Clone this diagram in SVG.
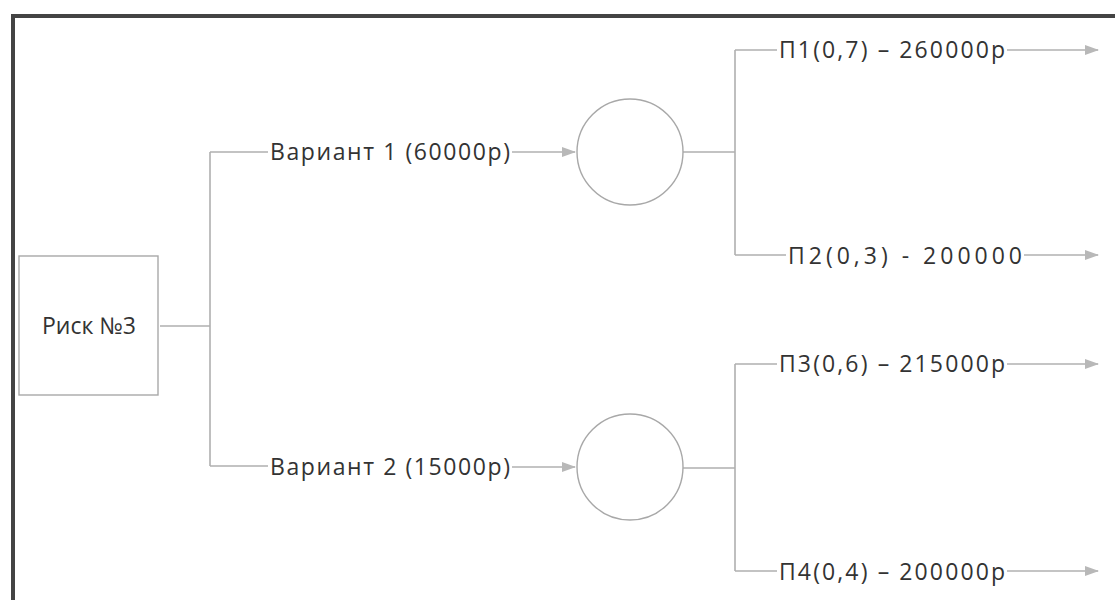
<svg xmlns="http://www.w3.org/2000/svg" width="1115" height="600" viewBox="0 0 1115 600">
<style>
.ln{stroke:#b0b0b0;stroke-width:1.6;fill:none}
.ar{stroke:#b0b0b0;stroke-width:1.6;fill:none;marker-end:url(#ah)}
.nd{stroke:#a8a8a8;stroke-width:1.4;fill:#fff}
.t{font-family:"Open Sans","Noto Sans","Liberation Sans",sans-serif;font-size:23px;fill:#333}
</style>
<defs>
<marker id="ah" markerWidth="14" markerHeight="10" refX="13" refY="5" orient="auto" markerUnits="userSpaceOnUse">
<path d="M0,0 L14,5 L0,10 Z" fill="#b8b8b8"/>
</marker>
</defs>
<rect width="1115" height="600" fill="#fff"/>
<rect x="13" y="16" width="1120" height="600" fill="none" stroke="#444" stroke-width="4"/>
<g id="connectors">
<path class="ln" d="M160,326 H210 M210,152 V466 M210,152 H268 M210,466 H268"/>
<path class="ar" d="M512,152 H575"/>
<path class="ar" d="M512,467 H575"/>
<path class="ln" d="M683,152 H735 M735,50 V255 M735,50 H777 M735,255 H786"/>
<path class="ar" d="M1007,50 H1098"/>
<path class="ar" d="M1024,255 H1098"/>
<path class="ln" d="M683,468 H735 M735,364 V571 M735,364 H777 M735,571 H777"/>
<path class="ar" d="M1007,364 H1098"/>
<path class="ar" d="M1007,571 H1098"/>
</g>
<g id="risk">
<rect class="nd" x="19" y="256" width="139" height="139"/>
<text class="t" x="89" y="334" text-anchor="middle">Риск №3</text>
</g>
<g id="var1"><text class="t" x="270" y="160" textLength="240">Вариант 1 (60000р)</text></g>
<g id="var2"><text class="t" x="270" y="475" textLength="240">Вариант 2 (15000р)</text></g>
<g id="c1"><circle class="nd" cx="630" cy="152" r="53"/></g>
<g id="c2"><circle class="nd" cx="630" cy="467" r="53"/></g>
<g id="p1"><text class="t" x="779" y="58" textLength="226">П1(0,7) – 260000р</text></g>
<g id="p2"><text class="t" x="788" y="264" textLength="234">П2(0,3) - 200000</text></g>
<g id="p3"><text class="t" x="779" y="372" textLength="226">П3(0,6) – 215000р</text></g>
<g id="p4"><text class="t" x="779" y="580" textLength="226">П4(0,4) – 200000р</text></g>
</svg>
